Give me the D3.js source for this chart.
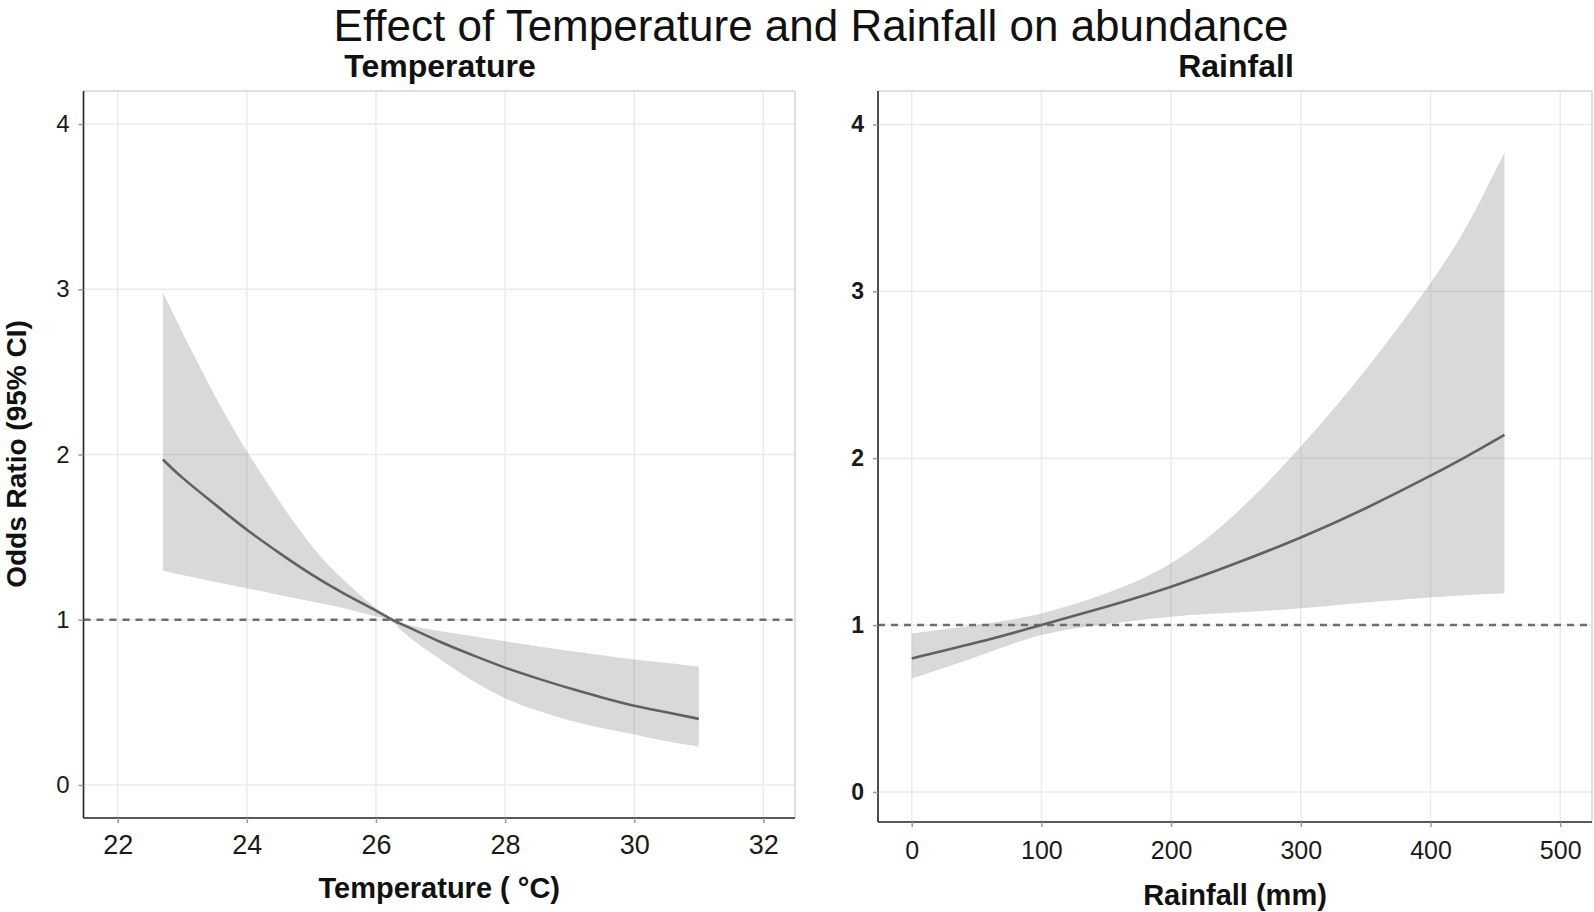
<!DOCTYPE html>
<html>
<head>
<meta charset="utf-8">
<script src="https://cdn.jsdelivr.net/npm/d3@7"></script>
<style>
  html, body { margin: 0; padding: 0; background: #fff; }
  svg { display: block; font-family: "Liberation Sans", Arial, sans-serif; }
</style>
</head>
<body>
<svg id="chart" width="1594" height="912"></svg>
<script>
// ---------- data ----------
const tempX     = [22.7, 23, 23.5, 24, 24.5, 25, 25.5, 26, 26.25, 26.5, 27, 27.5, 28, 28.5, 29, 29.5, 30, 30.5, 31];
const tempOR    = [1.97, 1.86, 1.70, 1.545, 1.405, 1.275, 1.16, 1.055, 1.0, 0.955, 0.865, 0.785, 0.71, 0.645, 0.585, 0.53, 0.48, 0.44, 0.40];
const tempUpper = [2.98, 2.74, 2.36, 2.02, 1.72, 1.45, 1.24, 1.07, 1.01, 0.97, 0.93, 0.90, 0.87, 0.84, 0.81, 0.785, 0.76, 0.74, 0.715];
const tempLower = [1.30, 1.27, 1.23, 1.19, 1.15, 1.11, 1.07, 1.02, 0.99, 0.90, 0.76, 0.63, 0.525, 0.45, 0.39, 0.345, 0.305, 0.265, 0.232];

const rainX     = [0, 50, 100, 150, 200, 250, 300, 350, 400, 430, 457];
const rainOR    = [0.80, 0.895, 1.0, 1.11, 1.23, 1.37, 1.525, 1.70, 1.895, 2.02, 2.14];
const rainUpper = [0.95, 1.0, 1.07, 1.19, 1.37, 1.67, 2.07, 2.53, 3.05, 3.42, 3.83];
const rainLower = [0.68, 0.81, 0.94, 1.005, 1.05, 1.075, 1.10, 1.135, 1.165, 1.18, 1.19];

const tempTicks = [22, 24, 26, 28, 30, 32];
const rainTicks = [0, 100, 200, 300, 400, 500];
const orTicks   = [0, 1, 2, 3, 4];

const mainTitle = "Effect of Temperature and Rainfall on abundance";
const yTitle = "Odds Ratio (95% CI)";

const svg = d3.select("#chart");
const FONT = '"Liberation Sans", Arial, sans-serif';

function panel(cfg) {
  const x = d3.scaleLinear().domain(cfg.xDomain).range(cfg.xRange);
  const y = d3.scaleLinear().domain(cfg.yDomain).range(cfg.yRange);
  const [x0, x1] = cfg.xRange;
  const [y0, y1] = cfg.yRange; // y0 bottom, y1 top
  const g = svg.append("g");

  // grid
  g.append("g").selectAll("line").data(cfg.xTicks).join("line")
    .attr("x1", d => x(d)).attr("x2", d => x(d)).attr("y1", y1).attr("y2", y0)
    .attr("stroke", "#ebebeb").attr("stroke-width", 1.5);
  g.append("g").selectAll("line").data(orTicks).join("line")
    .attr("x1", x0).attr("x2", x1).attr("y1", d => y(d)).attr("y2", d => y(d))
    .attr("stroke", "#ebebeb").attr("stroke-width", 1.5);

  const data = cfg.xs.map((v, i) => ({ x: v, m: cfg.mid[i], lo: cfg.lo[i], hi: cfg.hi[i] }));

  // ribbon
  g.append("path").datum(data)
    .attr("d", d3.area().x(d => x(d.x)).y0(d => y(d.lo)).y1(d => y(d.hi)).curve(d3.curveNatural))
    .attr("fill", "rgb(128,128,128)").attr("fill-opacity", 0.3);

  // reference line
  g.append("line")
    .attr("x1", x0).attr("x2", x1).attr("y1", y(1)).attr("y2", y(1))
    .attr("stroke", "#6e6e6e").attr("stroke-width", 2.6).attr("stroke-dasharray", "7,6");

  // fitted line
  g.append("path").datum(data)
    .attr("d", d3.line().x(d => x(d.x)).y(d => y(d.m)).curve(d3.curveNatural))
    .attr("fill", "none").attr("stroke", "#616161").attr("stroke-width", 2.6);

  // frame: top & right light, left & bottom dark
  g.append("line").attr("x1", x0).attr("x2", x1).attr("y1", y1).attr("y2", y1)
    .attr("stroke", "#d4d4d4").attr("stroke-width", 1.5);
  g.append("line").attr("x1", x1).attr("x2", x1).attr("y1", y1).attr("y2", y0)
    .attr("stroke", "#d4d4d4").attr("stroke-width", 1.5);

  // axes via d3
  const xAxis = d3.axisBottom(x).tickValues(cfg.xTicks).tickSize(5).tickPadding(cfg.xPad).tickFormat(d3.format("d"));
  const yAxis = d3.axisLeft(y).tickValues(orTicks).tickSize(5).tickPadding(cfg.yPad).tickFormat(d3.format("d"));

  const gx = g.append("g").attr("transform", `translate(0,${y0})`).call(xAxis);
  gx.select(".domain").attr("d", `M${x0},0H${x1}`).attr("stroke", "#222").attr("stroke-width", 1.6);
  gx.selectAll(".tick line").attr("stroke", "#999").attr("stroke-width", 1.5);
  gx.selectAll(".tick text").attr("fill", "#1a1a1a").style("font-size", cfg.xFont + "px")
    .style("font-family", FONT);

  const gy = g.append("g").attr("transform", `translate(${x0},0)`).call(yAxis);
  gy.select(".domain").attr("d", `M0,${y0}V${y1}`).attr("stroke", "#222").attr("stroke-width", 1.6);
  gy.selectAll(".tick line").attr("stroke", "#999").attr("stroke-width", 1.5);
  gy.selectAll(".tick text").attr("fill", "#1a1a1a").style("font-size", cfg.yFont + "px")
    .style("font-weight", cfg.yBold ? "bold" : "normal")
    .style("font-family", FONT);

  // panel subtitle
  svg.append("text").attr("x", cfg.subX).attr("y", 77).attr("text-anchor", "middle")
    .style("font-size", "32px").style("font-weight", "bold").attr("fill", "#111").text(cfg.subtitle);
  // x axis title
  svg.append("text").attr("x", (x0 + x1) / 2).attr("y", cfg.xTitleY).attr("text-anchor", "middle")
    .style("font-size", "29px").style("font-weight", "bold").attr("fill", "#111").text(cfg.xTitle);
}

panel({
  xDomain: [21.47, 32.49], xRange: [83.5, 795],
  yDomain: [-0.2, 4.2], yRange: [818, 91],
  xTicks: tempTicks, xs: tempX, mid: tempOR, lo: tempLower, hi: tempUpper,
  xPad: 12, yPad: 9, xFont: 27, yFont: 24, yBold: false,
  subtitle: "Temperature", subX: 440, xTitle: "Temperature ( °C)", xTitleY: 898
});

panel({
  xDomain: [-26, 524.5], xRange: [878, 1592],
  yDomain: [-0.18, 4.2], yRange: [822, 91],
  xTicks: rainTicks, xs: rainX, mid: rainOR, lo: rainLower, hi: rainUpper,
  xPad: 14, yPad: 9, xFont: 25, yFont: 23, yBold: true,
  subtitle: "Rainfall", subX: 1236, xTitle: "Rainfall (mm)", xTitleY: 905
});

// main title
svg.append("text").attr("x", 811).attr("y", 41).attr("text-anchor", "middle")
  .style("font-size", "44px").attr("fill", "#111").text(mainTitle);

// shared y title
svg.append("text").attr("transform", "translate(26,454) rotate(-90)")
  .attr("text-anchor", "middle").style("font-size", "28px").style("font-weight", "bold")
  .attr("fill", "#111").text(yTitle);
</script>
</body>
</html>
